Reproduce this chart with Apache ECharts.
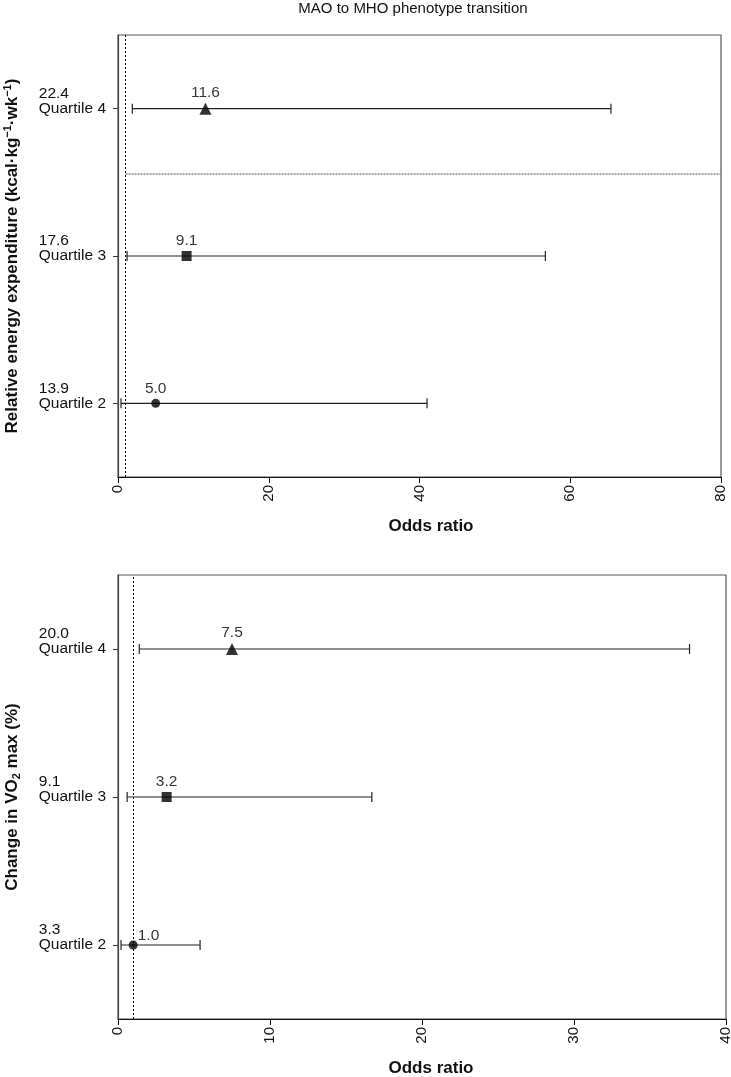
<!DOCTYPE html>
<html>
<head>
<meta charset="utf-8">
<script src="https://cdn.jsdelivr.net/npm/echarts@6/dist/echarts.min.js"></script>
<style>
  html, body { margin: 0; padding: 0; background: #fff; }
  #chart { width: 731px; height: 1077px; }
</style>
</head>
<body>
<div id="chart"></div>
<script>
// ---------- data ----------
const quartiles = ['Quartile 2', 'Quartile 3', 'Quartile 4'];
const quartileNum = [2, 3, 4];

// Panel A: relative energy expenditure (kcal·kg-1·wk-1)
const energyLevels = ['13.9', '17.6', '22.4'];
const energyOR = [5.0, 9.1, 11.6];
const energyLow = [0.4, 1.2, 1.9];
const energyHigh = [41.0, 56.7, 65.4];
const energyTicks = [0, 20, 40, 60, 80];

// Panel B: change in VO2 max (%)
const vo2Levels = ['3.3', '9.1', '20.0'];
const vo2OR = [1.0, 3.2, 7.5];
const vo2Low = [0.2, 0.6, 1.4];
const vo2High = [5.4, 16.7, 37.6];
const vo2Ticks = [0, 10, 20, 30, 40];

const nullOR = 1;            // reference line at OR = 1
const dividerLevel = [3.56]; // grey dotted separator in panel A

// ---------- styles ----------
const FONT = '"Liberation Sans", Arial, Helvetica, sans-serif';
const markerShapes = ['circle', 'rect', 'triangle'];
const markerSizes = [9, 10, 12];

function yAxisFor(levels, gridIndex, nameRich) {
  return {
    type: 'value', gridIndex: gridIndex, min: 1.5, max: 4.5,
    splitLine: { show: false },
    axisLine: { show: true, lineStyle: { color: '#444', width: 1.2 } },
    axisTick: { show: true, length: 5, customValues: quartileNum, lineStyle: { color: '#333' } },
    axisLabel: {
      customValues: quartileNum,
      margin: 12,
      formatter: function (v) {
        const i = quartileNum.indexOf(Math.round(v));
        if (i < 0) return '';
        return '{n|' + levels[i] + '}\n{q|' + quartiles[i] + '}\n{n| }';
      },
      rich: {
        n: { align: 'left', fontSize: 15.5, lineHeight: 15, fontFamily: FONT, color: '#111' },
        q: { align: 'left', fontSize: 15.5, lineHeight: 15, fontFamily: FONT, color: '#111' }
      }
    },
    name: nameRich.text,
    nameLocation: 'middle',
    nameGap: 96,
    nameTextStyle: { rich: nameRich.rich, fontFamily: FONT }
  };
}

function xAxisFor(ticks, gridIndex, shift) {
  return {
    type: 'value', gridIndex: gridIndex,
    min: ticks[0], max: ticks[ticks.length - 1], interval: ticks[1] - ticks[0],
    splitLine: { show: false },
    axisLine: { show: true, onZero: false, lineStyle: { color: '#111', width: 1.2 } },
    axisTick: { show: true, length: 6, lineStyle: { color: '#111' } },
    axisLabel: { rotate: 90, fontSize: 15, fontFamily: FONT, color: '#111', margin: 8 },
    name: 'Odds ratio',
    nameLocation: 'middle',
    nameGap: 41,
    nameTextStyle: { fontSize: 17, fontWeight: 'bold', fontFamily: FONT, color: '#111', padding: [0, 0, 0, shift] }
  };
}

function errorBarSeries(low, high, idx) {
  return {
    type: 'custom', xAxisIndex: idx, yAxisIndex: idx, silent: true,
    encode: { x: [0, 1], y: 2 },
    data: quartileNum.map((q, i) => [low[i], high[i], q]),
    renderItem: function (params, api) {
      const y = api.value(2);
      const a = api.coord([api.value(0), y]);
      const b = api.coord([api.value(1), y]);
      const h = 5;
      const st = { stroke: '#222', lineWidth: 1.2 };
      return {
        type: 'group', children: [
          { type: 'line', shape: { x1: a[0], y1: a[1], x2: b[0], y2: b[1] }, style: st },
          { type: 'line', shape: { x1: a[0], y1: a[1] - h, x2: a[0], y2: a[1] + h }, style: st },
          { type: 'line', shape: { x1: b[0], y1: b[1] - h, x2: b[0], y2: b[1] + h }, style: st }
        ]
      };
    },
    z: 2
  };
}

function pointSeries(or, idx, extraMarkLines) {
  return {
    type: 'scatter', xAxisIndex: idx, yAxisIndex: idx,
    data: quartileNum.map((q, i) => {
      const item = {
        value: [or[i], q],
        symbol: markerShapes[i],
        symbolSize: markerSizes[i]
      };
      if (or[i] < 2) {
        item.label = { position: 'right', offset: [-2, -9] };
      }
      return item;
    }),
    itemStyle: { color: '#000' },
    label: {
      show: true, position: 'top', distance: 2,
      fontSize: 15.5, fontFamily: FONT, color: '#000',
      formatter: p => p.value[0].toFixed(1)
    },
    markLine: {
      silent: true, symbol: 'none', animation: false,
      label: { show: false },
      lineStyle: { type: [2, 2], color: '#000', width: 1 },
      data: [{ xAxis: nullOR }].concat(extraMarkLines || [])
    },
    z: 3
  };
}

const chart = echarts.init(document.getElementById('chart'), null, { renderer: 'canvas' });

const option = {
  animation: false,
  backgroundColor: '#fff',
  textStyle: { fontFamily: FONT },
  graphic: [{
    type: 'text', x: 413, y: 9,
    style: { text: 'MAO to MHO phenotype transition', font: '15px ' + FONT, fill: '#111', align: 'center', verticalAlign: 'middle' }
  }],
  grid: [
    { left: 118, right: 10, top: 35, height: 442, outerBoundsMode: 'none', containLabel: false, show: true, borderColor: '#555', borderWidth: 1.2, backgroundColor: 'transparent' },
    { left: 118, right: 5, top: 575, height: 444, outerBoundsMode: 'none', containLabel: false, show: true, borderColor: '#555', borderWidth: 1.2, backgroundColor: 'transparent' }
  ],
  xAxis: [xAxisFor(energyTicks, 0, 23), xAxisFor(vo2Ticks, 1, 18)],
  yAxis: [
    yAxisFor(energyLevels, 0, {
      text: '{b|Relative energy expenditure (kcal·kg}{s|−1}{b|·wk}{s|−1}{b|)}',
      rich: {
        b: { fontSize: 17, fontWeight: 'bold', fontFamily: FONT, color: '#111', lineHeight: 20 },
        s: { fontSize: 11, fontWeight: 'bold', fontFamily: FONT, color: '#111', verticalAlign: 'top', lineHeight: 20 }
      }
    }),
    yAxisFor(vo2Levels, 1, {
      text: '{b|Change in VO}{s|2}{b| max (%)}',
      rich: {
        b: { fontSize: 17, fontWeight: 'bold', fontFamily: FONT, color: '#111', lineHeight: 20 },
        s: { fontSize: 11, fontWeight: 'bold', fontFamily: FONT, color: '#111', verticalAlign: 'bottom', lineHeight: 20 }
      }
    })
  ],
  series: [
    errorBarSeries(energyLow, energyHigh, 0),
    pointSeries(energyOR, 0, [[
      { coord: [nullOR, dividerLevel[0]], lineStyle: { type: [2, 1], color: '#888', width: 1.5 } },
      { coord: [energyTicks[energyTicks.length - 1], dividerLevel[0]] }
    ]]),
    errorBarSeries(vo2Low, vo2High, 1),
    pointSeries(vo2OR, 1)
  ]
};

chart.setOption(option);
</script>
</body>
</html>
